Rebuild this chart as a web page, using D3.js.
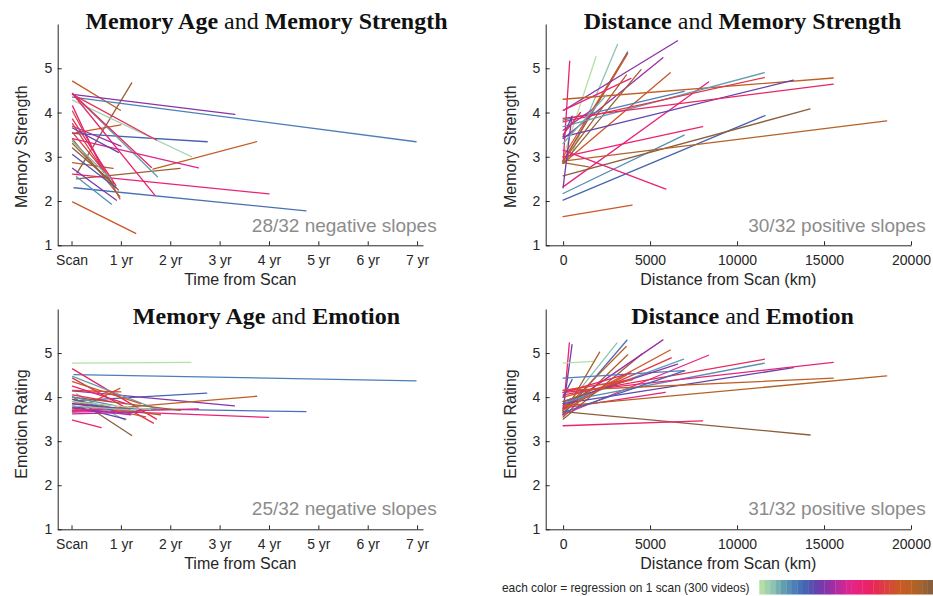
<!DOCTYPE html>
<html>
<head>
<meta charset="utf-8">
<script src="https://cdn.jsdelivr.net/npm/d3@7"></script>
<style>
  html, body { margin: 0; padding: 0; background: #ffffff; }
  svg { display: block; }
</style>
</head>
<body>
<svg id="chart" width="933" height="596"></svg>
<script>
// ---------------- DATA ----------------
const valueTicks = [1, 2, 3, 4, 5];
const yearTicks = [0, 1, 2, 3, 4, 5, 6, 7];
const yearTickLabels = ["Scan", "1 yr", "2 yr", "3 yr", "4 yr", "5 yr", "6 yr", "7 yr"];
const kmTicks = [0, 5000, 10000, 15000, 20000];

// colour anchors of the scan colormap (32 scans)
const scanColorAnchors = ["#b3dfa6", "#8cc2b2", "#5e9bb2", "#4a7cb8", "#4560b0", "#6a3fab",
  "#9230a8", "#c02a9e", "#e52488", "#ec2170", "#e8275a", "#dc4040", "#cc5628", "#c05e22",
  "#a8632b", "#8a5e3c"];

// each segment: [xStart, yStart, xEnd, yEnd, scanIndex]
const ageStrength = [
  [0.02, 4.71, 0.99, 4.05, 26], [0.11, 2.63, 1.22, 4.67, 30], [0.02, 4.41, 3.31, 3.96, 12],
  [0.02, 4.35, 6.98, 3.34, 6], [0.02, 3.53, 2.75, 3.34, 8], [1.65, 2.72, 3.75, 3.34, 27],
  [0.10, 2.50, 2.20, 2.74, 30], [0.02, 4.28, 2.43, 3.00, 1], [0.02, 4.41, 1.72, 3.38, 21],
  [0.02, 3.53, 1.00, 3.72, 26], [0.05, 4.40, 1.74, 2.55, 4], [0.02, 4.43, 1.62, 2.76, 21],
  [0.02, 3.41, 2.57, 2.75, 16], [0.02, 2.61, 4.00, 2.16, 18], [0.05, 2.30, 4.75, 1.78, 7],
  [0.02, 1.98, 1.30, 1.27, 25], [0.02, 2.74, 0.91, 2.02, 11], [0.10, 2.55, 0.81, 1.93, 5],
  [0.02, 4.43, 1.69, 2.13, 19], [0.02, 2.87, 0.84, 2.74, 27], [0.02, 3.69, 1.00, 3.24, 13],
  [0.02, 4.03, 0.98, 2.05, 24], [0.02, 3.40, 0.98, 2.10, 28], [0.02, 3.30, 0.95, 2.25, 29],
  [0.02, 3.20, 0.85, 2.40, 31], [0.02, 3.55, 0.75, 2.55, 22], [0.02, 3.85, 0.90, 2.35, 20],
  [0.02, 3.75, 0.70, 2.60, 23], [0.02, 4.15, 0.65, 2.65, 17], [0.02, 3.65, 0.95, 3.10, 10],
  [0.02, 3.35, 0.80, 2.50, 3], [0.02, 3.05, 0.90, 2.30, 9]
];

const distStrength = [
  [0, 2.85, 380, 5.16, 19], [130, 3.15, 1890, 5.26, 0], [420, 3.00, 3130, 5.54, 2],
  [0, 2.90, 3710, 5.37, 7], [0, 2.90, 3710, 5.33, 26], [0, 3.00, 3640, 5.30, 25],
  [35, 4.05, 6580, 5.62, 12], [0, 3.41, 5740, 5.24, 13], [0, 4.05, 3900, 4.77, 18],
  [0, 2.85, 4480, 4.97, 30], [0, 2.90, 3640, 4.85, 29], [0, 2.85, 6160, 4.90, 25],
  [0, 2.32, 8360, 4.69, 17], [0, 4.30, 15530, 4.78, 27], [0, 3.83, 6960, 4.48, 6],
  [0, 3.68, 11570, 4.90, 4], [0, 3.79, 11570, 4.79, 22], [0, 3.45, 13240, 4.73, 10],
  [0, 3.87, 15530, 4.64, 20], [0, 3.00, 8020, 3.68, 19], [0, 2.17, 6960, 3.49, 5],
  [0, 2.02, 11610, 3.93, 8], [0, 2.57, 14200, 4.08, 31], [0, 2.90, 18600, 3.81, 28],
  [0, 3.15, 5910, 2.27, 18], [0, 1.65, 3960, 1.91, 25], [0, 2.87, 1470, 2.77, 29],
  [0, 3.45, 520, 3.92, 9], [0, 2.30, 500, 3.90, 11], [0, 3.60, 1800, 4.10, 14],
  [0, 3.30, 2500, 4.40, 3], [0, 3.50, 1000, 4.00, 21]
];

const ageEmotion = [
  [0.02, 4.77, 2.42, 4.79, 0], [0.05, 4.51, 6.98, 4.37, 6], [0.10, 3.92, 2.74, 4.09, 8],
  [0.02, 4.14, 3.30, 3.80, 12], [0.02, 3.67, 3.75, 4.02, 27], [0.02, 3.76, 4.75, 3.67, 7],
  [0.02, 3.71, 3.99, 3.54, 18], [0.02, 3.66, 2.57, 3.73, 16], [0.02, 4.64, 1.72, 3.50, 20],
  [0.02, 4.43, 1.66, 3.41, 22], [0.02, 4.47, 1.72, 3.73, 4], [0.02, 4.01, 1.22, 3.13, 31],
  [0.02, 3.67, 0.98, 4.20, 26], [0.02, 3.48, 0.60, 3.31, 19], [0.10, 4.07, 1.08, 3.48, 3],
  [0.02, 4.15, 1.00, 4.12, 23], [0.02, 4.35, 1.40, 3.85, 25], [0.02, 3.95, 1.30, 3.65, 29],
  [0.02, 3.85, 1.80, 3.60, 28], [0.02, 3.80, 1.10, 3.50, 10], [0.02, 4.00, 2.20, 3.70, 30],
  [0.02, 3.90, 1.50, 3.55, 24], [0.02, 3.75, 1.20, 3.60, 13], [0.02, 4.05, 0.80, 3.90, 21],
  [0.02, 3.70, 1.00, 3.75, 17], [0.02, 3.85, 0.90, 3.75, 11], [0.02, 4.25, 1.10, 3.85, 19],
  [0.02, 3.95, 0.85, 3.70, 9], [0.02, 3.80, 1.30, 3.70, 2], [0.02, 3.62, 1.45, 3.66, 14],
  [0.02, 4.00, 0.90, 3.80, 5], [0.02, 3.90, 1.60, 3.72, 1]
];

const distEmotion = [
  [0, 3.60, 360, 5.23, 19], [0, 3.70, 515, 5.19, 11], [0, 4.77, 1760, 4.81, 0],
  [0, 3.70, 3100, 5.23, 2], [0, 3.60, 3670, 5.29, 7], [0, 3.60, 2100, 5.02, 29],
  [0, 3.70, 3630, 5.15, 26], [0, 3.55, 3710, 4.96, 28], [0, 3.50, 4530, 4.98, 30],
  [0, 3.75, 5740, 5.30, 13], [0, 3.75, 6160, 5.07, 25], [0, 3.80, 6220, 4.89, 22],
  [0, 3.60, 8360, 4.95, 17], [0, 3.85, 6930, 4.86, 4], [0, 4.43, 6930, 4.60, 6],
  [0, 3.75, 5870, 4.11, 18], [0, 4.05, 11570, 4.86, 21], [0, 3.90, 11570, 4.77, 5],
  [0, 3.85, 13240, 4.67, 10], [0, 4.10, 15530, 4.79, 18], [0, 4.15, 15530, 4.43, 27],
  [0, 3.80, 18600, 4.48, 28], [0, 3.67, 14200, 3.14, 31], [0, 3.35, 8020, 3.46, 19],
  [0, 3.90, 6580, 4.75, 12], [0, 4.00, 3960, 4.40, 24], [0, 3.90, 1470, 4.10, 29],
  [0, 4.10, 3900, 4.55, 20], [0, 4.00, 520, 4.40, 9], [0, 3.70, 3640, 4.50, 25],
  [0, 3.65, 7000, 4.60, 8], [0, 4.15, 4000, 4.40, 23]
];

const panelTitles = [
  ["Memory Age", " and ", "Memory Strength"],
  ["Distance", " and ", "Memory Strength"],
  ["Memory Age", " and ", "Emotion"],
  ["Distance", " and ", "Emotion"]
];
const slopeNotes = ["28/32 negative slopes", "30/32 positive slopes", "25/32 negative slopes", "31/32 positive slopes"];
const yTitles = ["Memory Strength", "Memory Strength", "Emotion Rating", "Emotion Rating"];
const xTitles = ["Time from Scan", "Distance from Scan (km)", "Time from Scan", "Distance from Scan (km)"];
const legendText = "each color = regression on 1 scan (300 videos)";

// ---------------- LAYOUT ----------------
const svg = d3.select("#chart");
const sans = "'Liberation Sans', Arial, Helvetica, sans-serif";
const serif = "'Liberation Serif', 'Times New Roman', serif";
const ink = "#262626";

const scanColor = d3.scaleSequential(d3.piecewise(d3.interpolateRgb, scanColorAnchors)).domain([0, 31]);

const cols = [{ left: 57.7, right: 423, kind: "age", titleX: 266.5, noteX: 436.7, yTitleX: 21.5 },
              { left: 545.7, right: 911, kind: "dist", titleX: 742.5, noteX: 925.7, yTitleX: 510.8 }];
const rows = [{ top: 24, bottom: 245.3, titleY: 29, noteY: 231.7, yTitleY: 146.7 },
              { top: 309, bottom: 529.3, titleY: 324, noteY: 515, yTitleY: 424 }];

const panels = [
  { data: ageStrength, c: 0, r: 0 },
  { data: distStrength, c: 1, r: 0 },
  { data: ageEmotion, c: 0, r: 1 },
  { data: distEmotion, c: 1, r: 1 }
];

panels.forEach((p, i) => {
  const col = cols[p.c], row = rows[p.r];
  const x = col.kind === "age"
    ? d3.scaleLinear().domain([-0.28, 7.12]).range([col.left, col.right])
    : d3.scaleLinear().domain([-1000, 20000]).range([col.left, col.right]);
  const y = d3.scaleLinear().domain([1, 6]).range([row.bottom, row.top]);

  const g = svg.append("g");

  // x axis
  const xAxis = col.kind === "age"
    ? d3.axisBottom(x).tickValues(yearTicks).tickFormat((d, j) => yearTickLabels[j])
    : d3.axisBottom(x).tickValues(kmTicks).tickFormat(d3.format("d"));
  const gx = g.append("g").attr("transform", `translate(0,${row.bottom})`)
    .call(xAxis.tickSizeInner(-4).tickSizeOuter(0).tickPadding(9.7));
  gx.attr("font-family", sans).attr("font-size", 14);
  gx.selectAll("text").attr("fill", ink);
  gx.selectAll("line, path").attr("stroke", ink);

  // y axis
  const gy = g.append("g").attr("transform", `translate(${col.left},0)`)
    .call(d3.axisLeft(y).tickValues(valueTicks).tickFormat(d3.format("d"))
      .tickSizeInner(-4).tickSizeOuter(0).tickPadding(5.5));
  gy.attr("font-family", sans).attr("font-size", 14);
  gy.selectAll("text").attr("fill", ink);
  gy.selectAll("line, path").attr("stroke", ink);

  // regression lines
  g.append("g").selectAll("line").data(p.data).join("line")
    .attr("x1", d => x(d[0])).attr("y1", d => y(d[1]))
    .attr("x2", d => x(d[2])).attr("y2", d => y(d[3]))
    .attr("stroke", d => scanColor(d[4]))
    .attr("stroke-width", 1.3)
    .attr("stroke-linecap", "round");

  // slope note
  g.append("text").attr("x", col.noteX).attr("y", row.noteY)
    .attr("text-anchor", "end").attr("font-family", sans).attr("font-size", 19)
    .attr("fill", "#8c8c8c").text(slopeNotes[i]);

  // axis titles
  g.append("text").attr("x", (col.left + col.right) / 2).attr("y", row.bottom + 39.7)
    .attr("text-anchor", "middle").attr("font-family", sans).attr("font-size", 16)
    .attr("fill", ink).text(xTitles[i]);
  g.append("text")
    .attr("transform", `translate(${col.yTitleX + 5.5},${row.yTitleY}) rotate(-90)`)
    .attr("text-anchor", "middle").attr("font-family", sans).attr("font-size", 16)
    .attr("fill", ink).text(yTitles[i]);

  // panel title
  const t = g.append("text").attr("x", col.titleX).attr("y", row.titleY)
    .attr("text-anchor", "middle").attr("font-family", serif).attr("font-size", 24)
    .attr("fill", "#111").style("white-space", "pre");
  panelTitles[i].forEach((s, k) => {
    t.append("tspan").attr("font-weight", k === 1 ? "normal" : "bold").text(s);
  });
});

// colour legend
svg.append("text").attr("x", 502).attr("y", 592).attr("font-family", sans)
  .attr("font-size", 11.9).attr("fill", ink).text(legendText);
const band = d3.scaleBand().domain(d3.range(32)).range([759.3, 933]);
svg.append("g").selectAll("rect").data(d3.range(32)).join("rect")
  .attr("x", d => band(d)).attr("y", 580).attr("width", band.bandwidth() + 0.3).attr("height", 14.5)
  .attr("fill", d => scanColor(d));
</script>
</body>
</html>
